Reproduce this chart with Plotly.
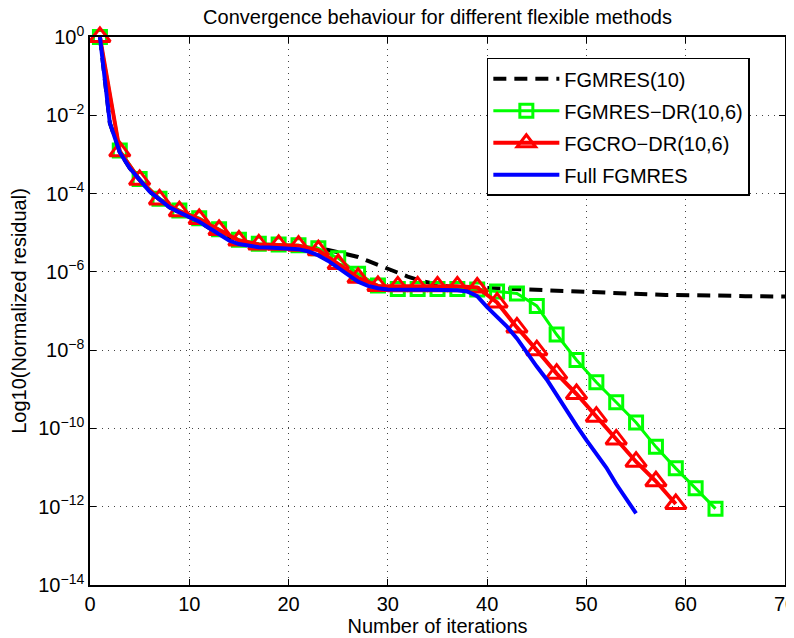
import plotly.graph_objects as go

# ---------------- data (log10 of normalized residual) ----------------
it_fgmres10 = list(range(1, 71))
log_fgmres10 = [0.0, -2.2, -2.95, -3.35, -3.65, -3.95, -4.15, -4.35, -4.48, -4.6,
                -4.72, -4.88, -5.03, -5.15, -5.24, -5.3, -5.33, -5.35, -5.36, -5.37,
                -5.37, -5.38, -5.4, -5.44, -5.5, -5.55, -5.62, -5.72, -5.82, -5.93,
                -6.03, -6.12, -6.2, -6.27, -6.33, -6.37, -6.39, -6.4, -6.41, -6.41,
                -6.42, -6.44, -6.46, -6.46, -6.47, -6.48, -6.5, -6.51, -6.52, -6.53,
                -6.54, -6.55, -6.56, -6.57, -6.57, -6.58, -6.58, -6.59, -6.59, -6.59,
                -6.6, -6.6, -6.61, -6.61, -6.61, -6.62, -6.62, -6.62, -6.62, -6.63]

it_fgmresdr = list(range(1, 64, 2))
log_fgmresdr = [0.0, -2.9, -3.63, -4.13, -4.43, -4.63, -4.91, -5.18, -5.28, -5.3,
                -5.32, -5.4, -5.65, -6.05, -6.35, -6.44, -6.44, -6.44, -6.44, -6.45,
                -6.5, -6.55, -6.87, -7.6, -8.25, -8.82, -9.33, -9.85, -10.47, -11.02,
                -11.53, -12.05]

it_fgcrodr = list(range(1, 60, 2))
log_fgcrodr = [0.0, -2.92, -3.65, -4.15, -4.45, -4.65, -4.93, -5.2, -5.3, -5.31,
               -5.33, -5.45, -5.8, -6.15, -6.36, -6.37, -6.37, -6.37, -6.37, -6.4,
               -6.78, -7.42, -8.0, -8.6, -9.12, -9.7, -10.28, -10.85, -11.35, -11.93]

it_full = list(range(1, 56))
log_full = [0.0, -2.2, -2.95, -3.35, -3.65, -3.95, -4.15, -4.35, -4.48, -4.6,
            -4.72, -4.88, -5.05, -5.2, -5.29, -5.34, -5.37, -5.38, -5.39, -5.4,
            -5.42, -5.48, -5.58, -5.72, -5.9, -6.08, -6.25, -6.36, -6.42, -6.45,
            -6.46, -6.46, -6.46, -6.46, -6.46, -6.46, -6.47, -6.5, -6.62, -6.9,
            -7.15, -7.4, -7.7, -8.08, -8.42, -8.75, -9.15, -9.55, -9.93, -10.3,
            -10.66, -11.0, -11.42, -11.8, -12.17]

series_names = ["FGMRES(10)", "FGMRES\u2212DR(10,6)", "FGCRO\u2212DR(10,6)", "Full FGMRES"]

x_ticks = [0, 10, 20, 30, 40, 50, 60, 70]
y_exps = [0, -2, -4, -6, -8, -10, -12, -14]
y_tickvals = [10.0 ** e for e in y_exps]
y_ticktext = ["10<sup>%s</sup>" % (str(e).replace("-", "\u2212")) for e in y_exps]

title_text = "Convergence behaviour for different flexible methods"
x_title = "Number of iterations"
y_title = "Log10(Normalized residual)"


def to_val(logs):
    return [10.0 ** v for v in logs]


FONT = "Liberation Sans, Arial, Helvetica, sans-serif"

fig = go.Figure()
fig.add_trace(go.Scatter(
    x=it_fgmres10, y=to_val(log_fgmres10), name=series_names[0], mode="lines",
    line=dict(color="black", width=4, dash="13px,8px"), legendgroup="a"))
fig.add_trace(go.Scatter(
    x=it_fgmresdr, y=to_val(log_fgmresdr), name=series_names[1], mode="lines+markers",
    line=dict(color="#00ff00", width=3), cliponaxis=False,
    marker=dict(symbol="square-open", size=13, color="#00ff00", line=dict(width=3, color="#00ff00")),
    legendgroup="b"))
fig.add_trace(go.Scatter(
    x=it_fgcrodr, y=to_val(log_fgcrodr), name=series_names[2], mode="lines+markers",
    line=dict(color="#ff0000", width=4), cliponaxis=False,
    marker=dict(symbol="triangle-up-open", size=18, color="#ff0000", line=dict(width=3, color="#ff0000")),
    legendgroup="c"))
fig.add_trace(go.Scatter(
    x=it_full, y=to_val(log_full), name=series_names[3], mode="lines",
    line=dict(color="#0000ff", width=4), legendgroup="d"))

axis_common = dict(
    showline=True, linecolor="black", linewidth=1.5, mirror="ticks",
    ticks="inside", ticklen=6, tickwidth=1, tickcolor="black",
    showgrid=True, gridcolor="#444444", gridwidth=1, griddash="1px,5px",
    zeroline=False, automargin=False, ticklabeloverflow="allow",
    tickfont=dict(family=FONT, size=20, color="black"),
)

# the page body adds an 8px offset, so the figure is sized 8px smaller
fig.update_layout(
    width=786, height=630,
    margin=dict(l=82, r=9, t=29, b=53),
    paper_bgcolor="white", plot_bgcolor="white",
    font=dict(family=FONT, color="black"),
    title=dict(text=title_text, x=0.5, xanchor="center", xref="paper",
               y=0.986, yanchor="middle", font=dict(family=FONT, size=20, color="black")),
    showlegend=True,
    legend=dict(x=0.571, y=0.962, xanchor="left", yanchor="top",
                bgcolor="white", bordercolor="black", borderwidth=1.5,
                font=dict(family=FONT, size=20, color="black"),
                itemwidth=66, tracegroupgap=3, traceorder="grouped"),
    xaxis=dict(range=[0, 70], tickvals=x_ticks,
               title=dict(text=x_title, font=dict(family=FONT, size=20, color="black"), standoff=4),
               **axis_common),
    yaxis=dict(type="log", range=[-14, 0], tickvals=y_tickvals, ticktext=y_ticktext,
               title=dict(text=y_title, font=dict(family=FONT, size=20, color="black"), standoff=8),
               **axis_common),
)

fig.write_html("out.html")
